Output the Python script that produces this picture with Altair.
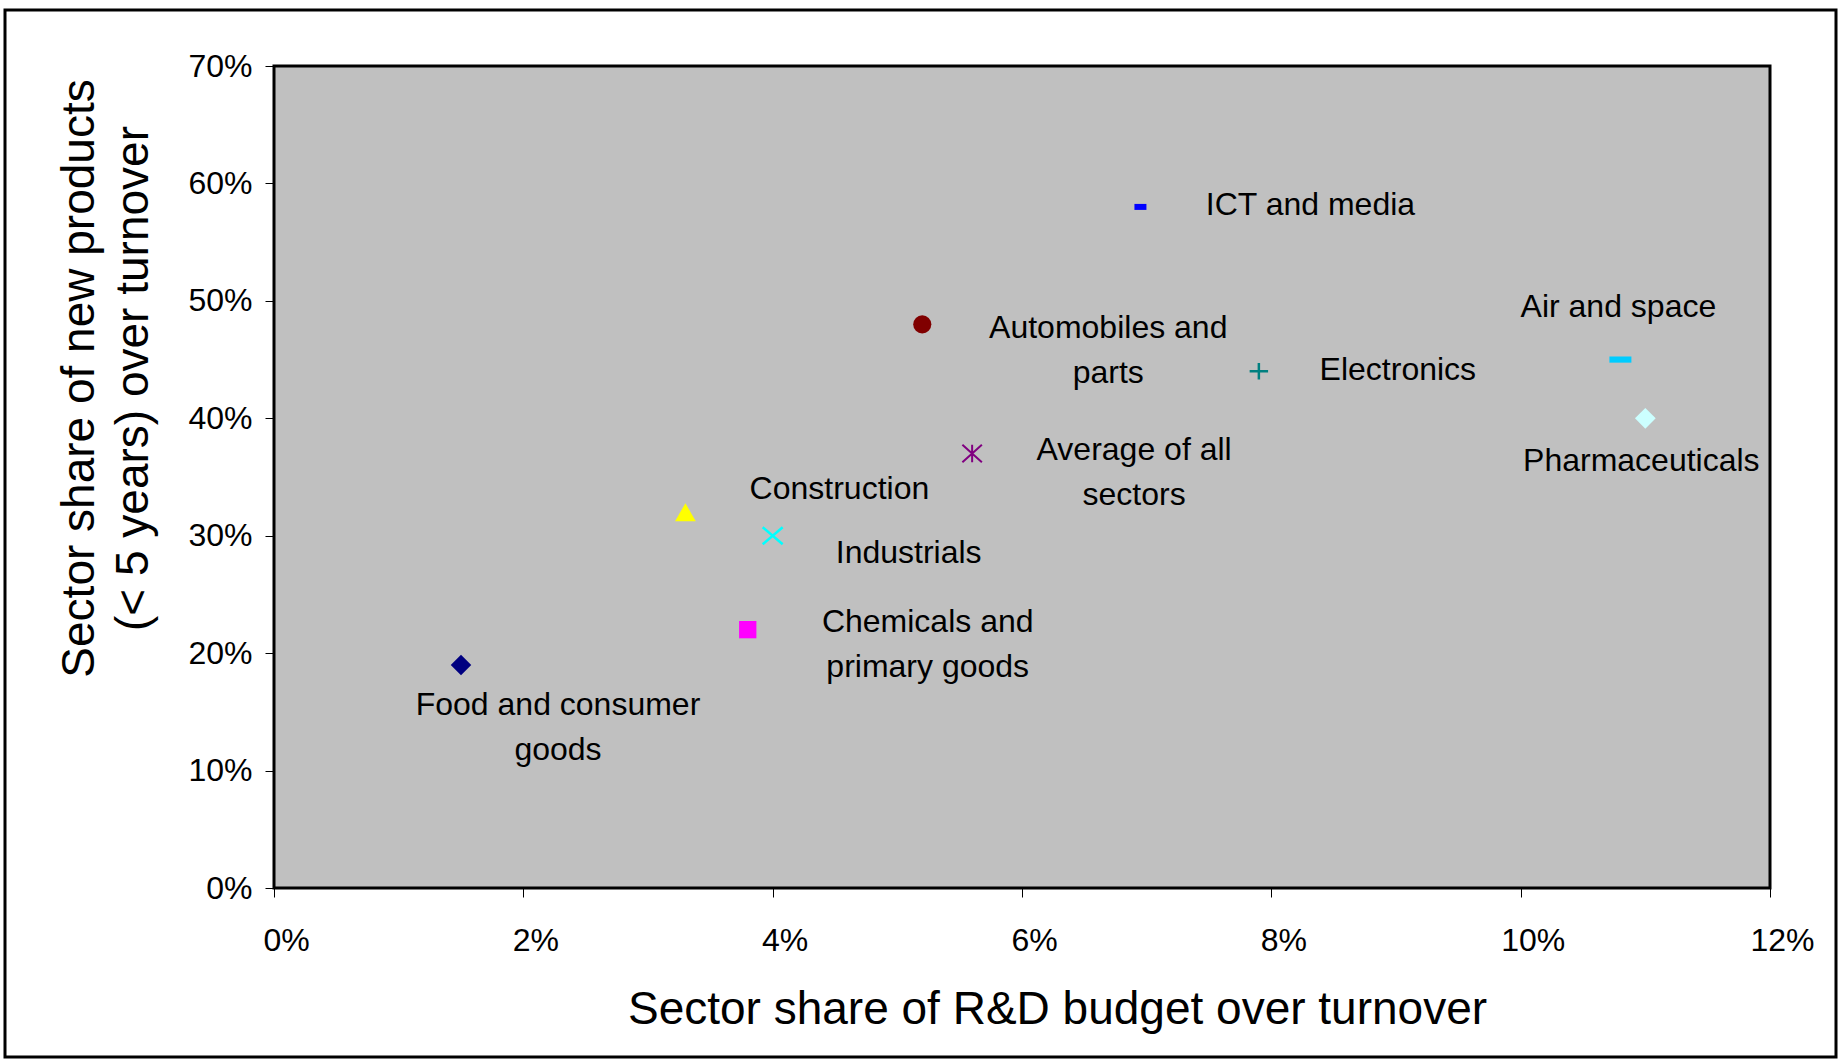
import altair as alt
import pandas as pd

# ---- data ----
sectors = [
    "Food and consumer goods",
    "Construction",
    "Industrials",
    "Chemicals and primary goods",
    "Automobiles and parts",
    "Average of all sectors",
    "ICT and media",
    "Electronics",
    "Air and space",
    "Pharmaceuticals",
]
labels = [
    "Food and consumer\ngoods",
    "Construction",
    "Industrials",
    "Chemicals and\nprimary goods",
    "Automobiles and\nparts",
    "Average of all\nsectors",
    "ICT and media",
    "Electronics",
    "Air and space",
    "Pharmaceuticals",
]
rd_share = [1.5, 3.3, 4.0, 3.8, 5.2, 5.6, 6.95, 7.9, 10.8, 11.0]          # % of turnover
new_product_share = [19, 32, 30, 22, 48, 37, 58, 44, 45, 40]            # % of turnover
x_ticks = [0, 2, 4, 6, 8, 10, 12]
y_ticks = [0, 10, 20, 30, 40, 50, 60, 70]

df = pd.DataFrame({
    "sector": sectors,
    "label": labels,
    "rd": rd_share,
    "newprod": new_product_share,
})

# ---- styles (marker and label placement) ----
FONT = "Liberation Sans"
LINE_H = 45
styles = {
    "Food and consumer goods":     dict(shape="diamond", filled=True, size=420, color="#000080", sw=1, dx=97, dy=65),
    "Construction":                dict(shape="triangle-up", filled=True, size=430, color="#FFFF00", sw=1, dx=154, dy=-21),
    "Industrials":                 dict(shape="M-1,-0.85L1,0.85M1,-0.85L-1,0.85", filled=False, size=400, color="#00FFFF", sw=2.5, dx=136, dy=19),
    "Chemicals and primary goods": dict(shape="square", filled=True, size=300, color="#FF00FF", sw=1, dx=180, dy=17),
    "Automobiles and parts":       dict(shape="circle", filled=True, size=330, color="#800000", sw=1, dx=186, dy=28),
    "Average of all sectors":      dict(shape="M-1,-0.9L1,0.9M1,-0.9L-1,0.9M0,-0.9L0,0.9", filled=False, size=380, color="#800080", sw=2, dx=162, dy=21),
    "ICT and media":               dict(shape="M-1,-0.5L1,-0.5L1,0.5L-1,0.5Z", filled=True, size=144, color="#0000FF", sw=0, dx=170, dy=0),
    "Electronics":                 dict(shape="M-1,0L1,0M0,-0.9L0,0.9", filled=False, size=340, color="#008080", sw=2.5, dx=139, dy=1),
    "Air and space":               dict(shape="M-1,-0.28L1,-0.28L1,0.28L-1,0.28Z", filled=True, size=484, color="#00CCFF", sw=0, dx=-2, dy=-51),
    "Pharmaceuticals":             dict(shape="diamond", filled=True, size=430, color="#CCFFFF", sw=1, dx=-4, dy=45),
}

X = alt.X(
    "rd:Q",
    scale=alt.Scale(domain=[0, 12], nice=False, zero=True),
    axis=alt.Axis(
        values=x_ticks,
        labelExpr="datum.value + '%'",
        title="Sector share of R&D budget over turnover",
        titleFont=FONT, titleFontSize=46, titleFontWeight="normal", titleColor="#000000",
        titleX=783, titleY=135, titleBaseline="alphabetic", titleAlign="center",
        labelFont=FONT, labelFontSize=32, labelColor="#000000",
        labelPadding=28, labelOffset=12, labelFlush=False, labelOverlap=False,
        tickSize=9, tickColor="#000000", tickWidth=1,
        domain=False, grid=False,
    ),
)
Y = alt.Y(
    "newprod:Q",
    scale=alt.Scale(domain=[0, 70], nice=False, zero=True),
    axis=alt.Axis(
        values=y_ticks,
        labelExpr="datum.value + '%'",
        title=["Sector share of new products", "(< 5 years) over turnover"],
        titleFont=FONT, titleFontSize=46, titleFontWeight="normal", titleColor="#000000",
        titleLineHeight=54, titleAngle=270,
        titleX=-195, titleY=312, titleBaseline="middle", titleAlign="center",
        labelFont=FONT, labelFontSize=32, labelColor="#000000",
        labelPadding=13, labelFlush=False, labelOverlap=False,
        tickSize=9, tickColor="#000000", tickWidth=1,
        domain=False, grid=False,
    ),
)

base = alt.Chart(df)

# outer frame around the whole figure (decoration)
frame = base.transform_filter(
    alt.FieldEqualPredicate(field="sector", equal=sectors[0])
).mark_rect(fillOpacity=0, stroke="#000000", strokeWidth=3).encode(
    x=alt.value(-269), x2=alt.value(1562), y=alt.value(-56), y2=alt.value(991)
)

layers = [frame]
for s, lab in zip(sectors, labels):
    st = styles[s]
    sub = base.transform_filter(alt.FieldEqualPredicate(field="sector", equal=s))
    pt_kwargs = dict(shape=st["shape"], filled=st["filled"], size=st["size"],
                     opacity=1)
    if st["filled"]:
        pt_kwargs.update(fill=st["color"], strokeWidth=0)
    else:
        pt_kwargs.update(stroke=st["color"], strokeWidth=st["sw"], fillOpacity=0)
    pts = sub.mark_point(**pt_kwargs).encode(x=X, y=Y)
    n_lines = lab.count("\n") + 1
    dy = st["dy"] - 2 - (n_lines - 1) * LINE_H / 2
    txt = sub.mark_text(
        font=FONT, fontSize=32, color="#000000", align="center", baseline="middle",
        lineBreak="\n", lineHeight=LINE_H, dx=st["dx"], dy=dy,
    ).encode(x=X, y=Y, text="label:N")
    layers += [pts, txt]

chart = alt.layer(*layers).properties(
    width=1496,
    height=822,
    padding={"left": 274, "top": 66, "right": 69, "bottom": 175},
    autosize=alt.AutoSizeParams(type="none"),
    background="#FFFFFF",
).configure_view(
    fill="#C0C0C0", stroke="#000000", strokeWidth=3
)

chart.save("out.html", embed_options={"renderer": "svg", "actions": False})
